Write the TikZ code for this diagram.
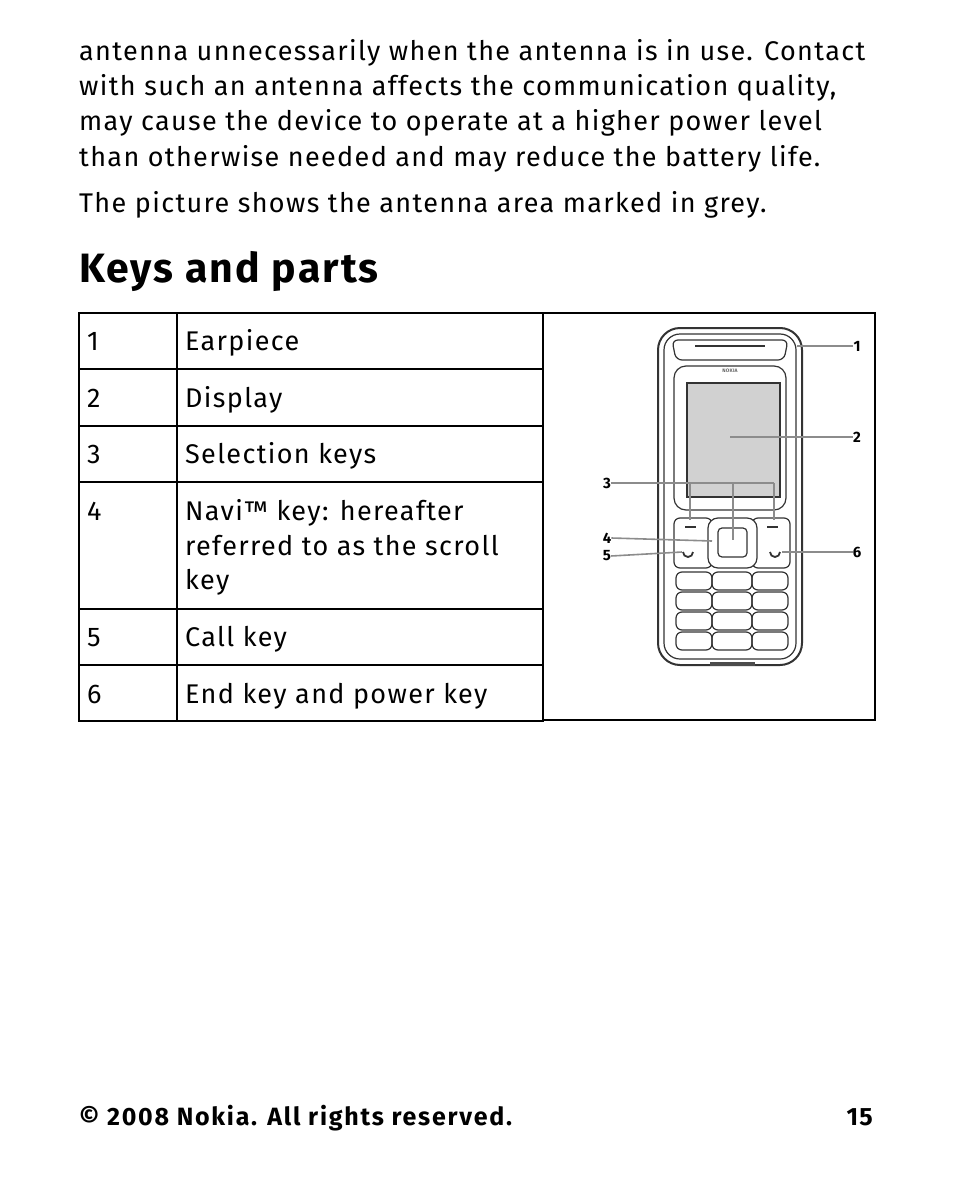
\documentclass[tikz,border=0pt]{standalone}
\usepackage{fontspec}
\setmainfont{Fira Sans}[LetterSpace=5]
\begin{document}
\begin{tikzpicture}[x=1pt,y=-1pt,
  body/.style={font=\fontsize{27}{33}\selectfont,anchor=base west,inner sep=0},
  cell/.style={line width=1.3pt},
  lead/.style={draw=black!45,line width=1.6pt},
  num/.style={font=\bfseries\fontsize{15}{15}\selectfont,inner sep=0},
  ph/.style={draw=black!80,line width=1.2pt}]
\useasboundingbox[fill=white] (0,0) rectangle (954,1180);
% paragraph
\node[body] (p1) at (79,61) {antenna unnecessarily when the antenna is in use. Contact};
\node[body] (p2) at (79,96) {with such an antenna affects the communication quality,};
\node[body] (p3) at (79,131) {may cause the device to operate at a higher power level};
\node[body] (p4) at (79,166) {than otherwise needed and may reduce the battery life.};
\node[body] (p5) at (79,212) {The picture shows the antenna area marked in grey.};
\node[body,font=\bfseries\fontsize{41}{41}\selectfont] (h) at (79,282) {Keys and parts};
% table
\draw[cell] (79,313) rectangle (543,721);
\draw[cell] (543,313) rectangle (875,720);
\draw[cell] (177,313) -- (177,721);
\foreach \y in {369,426,482,609,665} \draw[cell] (79,\y) -- (543,\y);
\node[body] (n1) at (87,350) {1}; \node[body] (t1) at (185,350) {Earpiece};
\node[body] (n2) at (87,407) {2}; \node[body] (t2) at (185,407) {Display};
\node[body] (n3) at (87,463) {3}; \node[body] (t3) at (185,463) {Selection keys};
\node[body] (n4) at (87,520) {4}; \node[body] (t4a) at (185,520) {Navi™ key: hereafter};
\node[body] (t4b) at (185,555) {referred to as the scroll};
\node[body] (t4c) at (185,589) {key};
\node[body] (n5) at (87,646) {5}; \node[body] (t5) at (185,646) {Call key};
\node[body] (n6) at (87,703) {6}; \node[body] (t6) at (185,703) {End key and power key};
% phone
\draw[ph,line width=2pt,rounded corners=22] (658,328) rectangle (802,665);
\draw[ph,rounded corners=16] (664,334) rectangle (796,659);
\draw[ph,rounded corners=6] (672,340) -- (788,340) -- (784,360) -- (676,360) -- cycle;
\draw[ph,line width=2pt] (695,346) -- (765,346);
\draw[ph,rounded corners=12] (674,366) rectangle (786,510);
\node[font=\fontsize{5}{5}\selectfont\bfseries,text=black!60] (logo) at (730,371) {NOKIA};
\draw[ph,fill=black!18] (687,383) rectangle (780,497);
\draw[ph,rounded corners=6] (674,518) rectangle (712,568);
\draw[ph,rounded corners=6] (752,518) rectangle (790,568);
\draw[ph,rounded corners=10,fill=white] (708,518) rectangle (757,568);
\draw[ph,rounded corners=4] (718,528) rectangle (747,557);
\draw[ph,line width=1.8pt] (685,527)--(696,527) (767,527)--(778,527);
\draw[ph,line width=1.8pt] (683,552) arc (180:0:5);
\draw[ph,line width=1.8pt] (770,552) arc (180:0:5);
\foreach \y in {572,592,612,632}{
  \draw[ph,rounded corners=6] (676,\y) rectangle (712,\y+18);
  \draw[ph,rounded corners=6] (712,\y) rectangle (752,\y+18);
  \draw[ph,rounded corners=6] (752,\y) rectangle (788,\y+18);
}
\fill[black!70] (710,662) rectangle (755,666);
% leaders
\coordinate (e1) at (797,346); \coordinate (e2) at (730,437);
\node[num] (l1) at (857,346) {1};
\node[num] (l2) at (857,437) {2};
\node[num] (l3) at (607,483) {3};
\node[num] (l4) at (607,538) {4};
\node[num] (l5) at (607,556) {5};
\node[num] (l6) at (857,552) {6};
\draw[lead] (e1) -- (l1.west);
\draw[lead] (e2) -- (l2.west);
\draw[lead] (l3.east) -- (774,483);
\draw[lead] (690,483) -- (690,520) (733,483) -- (733,540) (774,483) -- (774,520);
\draw[lead] (l4.east) -- (712,541);
\draw[lead] (l5.east) -- (682,552);
\draw[lead] (782,552) -- (l6.west);
% footer
\node[body,font=\bfseries\fontsize{25}{25}\selectfont\addfontfeature{LetterSpace=7}] (f1) at (79,1125) {© 2008 Nokia. All rights reserved.};
\node[body,anchor=base east,font=\bfseries\fontsize{25}{25}\selectfont] (f2) at (873,1125) {15};
\end{tikzpicture}
\end{document}
